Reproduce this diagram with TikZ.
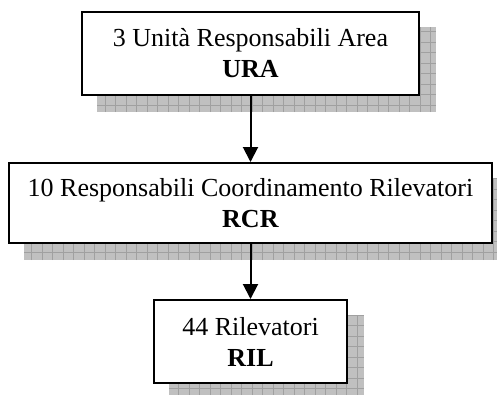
\documentclass[tikz,border=0pt]{standalone}
\usepackage{fontspec}
\setmainfont{Liberation Serif}
\usetikzlibrary{arrows.meta,backgrounds,calc}
\definecolor{shadowfill}{RGB}{192,192,192}
\definecolor{shadowgrid}{RGB}{160,160,160}
\tikzset{
  unitbox/.style={draw=black, line width=2pt, fill=white, align=center,
    inner sep=0pt, font=\fontsize{26}{31}\selectfont},
  arr/.style={line width=2pt, -{Triangle[length=15pt,width=15pt]}},
}
\newcommand\dropshadow[1]{%
  \begin{scope}[on background layer]
    \coordinate (sa) at ($(#1.north west)+(16,16)$);
    \coordinate (sb) at ($(#1.south east)+(16,16)$);
    \fill[shadowfill] (sa) rectangle (sb);
    \begin{scope}
      \clip (sa) rectangle (sb);
      \draw[shadowgrid, line width=0.6pt, step=10.5pt] (sa) grid (sb);
    \end{scope}
  \end{scope}}
\begin{document}
\begin{tikzpicture}[x=1pt,y=-1pt]
  \useasboundingbox (0,0) rectangle (497,394);
  \node[unitbox, minimum width=337pt, minimum height=83pt] (ura) at (250.5,53.5)
    {3 Unità Responsabili Area\\\textbf{URA}};
  \node[unitbox, minimum width=483pt, minimum height=80pt] (rcr) at (250.5,203)
    {10 Responsabili Coordinamento Rilevatori\\\textbf{RCR}};
  \node[unitbox, minimum width=193pt, minimum height=83pt] (ril) at (250.5,341.5)
    {44 Rilevatori\\\textbf{RIL}};
  \dropshadow{ura}
  \dropshadow{rcr}
  \dropshadow{ril}
  \draw[arr] (ura.south) -- (rcr.north);
  \draw[arr] (rcr.south) -- (ril.north);
\end{tikzpicture}
\end{document}
